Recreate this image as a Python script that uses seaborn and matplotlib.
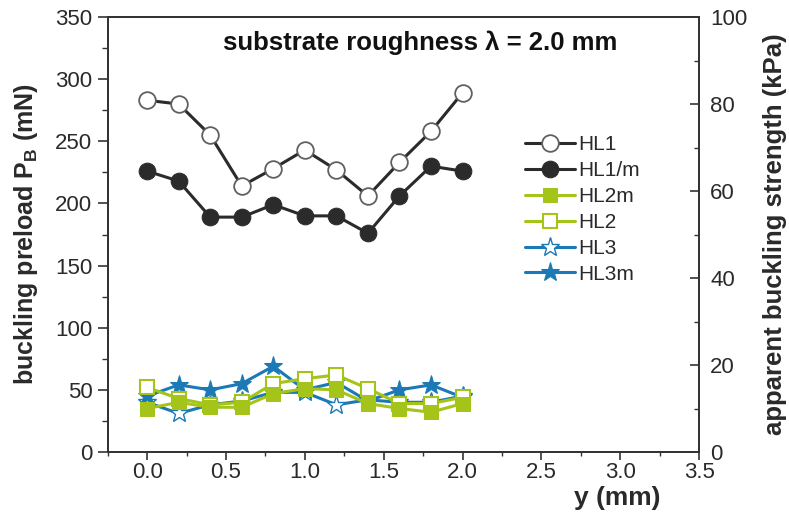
import matplotlib
matplotlib.use("Agg")
import matplotlib.pyplot as plt
import seaborn as sns
import pandas as pd
from matplotlib.ticker import MultipleLocator

# ---- data ----
y_mm = [0.0, 0.2, 0.4, 0.6, 0.8, 1.0, 1.2, 1.4, 1.6, 1.8, 2.0]
hl1 = [283, 280, 255, 214, 228, 243, 227, 206, 233, 258, 289]
hl1m = [226, 218, 189, 189, 199, 190, 190, 176, 206, 230, 226]
hl2m = [35, 40, 36, 36, 47, 51, 50, 39, 35, 32, 39]
hl2 = [52, 43, 38, 40, 55, 59, 62, 51, 39, 39, 44]
hl3 = [40, 31, 38, 41, 48, 48, 38, 42, 40, 40, 45]
hl3m = [45, 54, 50, 55, 69, 50, 56, 41, 50, 54, 44]
series_names = ["HL1", "HL1/m", "HL2m", "HL2", "HL3", "HL3m"]
x_ticks = [0.0, 0.5, 1.0, 1.5, 2.0, 2.5, 3.0, 3.5]
left_ticks = [0, 50, 100, 150, 200, 250, 300, 350]
right_ticks = [0, 20, 40, 60, 80, 100]

sns.set_theme(style="white")
plt.rcParams["font.family"] = ["Liberation Sans", "DejaVu Sans"]
plt.rcParams["mathtext.fontset"] = "custom"
plt.rcParams["mathtext.rm"] = "Liberation Sans"
plt.rcParams["mathtext.bf"] = "Liberation Sans:bold"

GREEN = "#a5c41a"
BLUE = "#1b7ab5"
DARK = "#2b2b2b"
TXT = "#2a2a2a"

fig = plt.figure(figsize=(7.89, 5.27), dpi=100)
ax = fig.add_axes([0.1365, 0.1423, 0.7495, 0.8254])

styles = {
    "HL1": dict(color=DARK, marker="o", markersize=12, markerfacecolor="white",
                markeredgecolor="#606060", markeredgewidth=1.3, zorder=3),
    "HL1/m": dict(color=DARK, marker="o", markersize=12, markerfacecolor=DARK,
                  markeredgecolor=DARK, zorder=3),
    "HL2m": dict(color=GREEN, marker="s", markersize=10.5, markerfacecolor=GREEN,
                 markeredgecolor=GREEN, zorder=5),
    "HL2": dict(color=GREEN, marker="s", markersize=10.5, markerfacecolor="white",
                markeredgecolor=GREEN, markeredgewidth=1.5, zorder=4),
    "HL3": dict(color=BLUE, marker="*", markersize=14, markerfacecolor="white",
                markeredgecolor=BLUE, markeredgewidth=1.0, zorder=2),
    "HL3m": dict(color=BLUE, marker="*", markersize=14, markerfacecolor=BLUE,
                 markeredgecolor=BLUE, zorder=2),
}
values = {"HL1": hl1, "HL1/m": hl1m, "HL2m": hl2m, "HL2": hl2, "HL3": hl3, "HL3m": hl3m}

for name in series_names:
    df = pd.DataFrame({"y": y_mm, "v": values[name]})
    sns.lineplot(data=df, x="y", y="v", ax=ax, label=name, linewidth=2.2, **styles[name])

ax.set_xlim(-0.25, 3.5)
ax.set_ylim(0, 350)
ax.set_xticks(x_ticks)
ax.set_xticklabels([f"{t:.1f}" for t in x_ticks])
ax.set_yticks(left_ticks)
ax.xaxis.set_minor_locator(MultipleLocator(0.25))
ax.yaxis.set_minor_locator(MultipleLocator(25))
ax.tick_params(axis="x", which="major", direction="out", length=5.5, width=1.2,
               labelsize=16, labelcolor=TXT, color="#333333", bottom=True, pad=1.5)
ax.tick_params(axis="x", which="minor", direction="out", length=3, width=1.0,
               color="#333333", bottom=True)
ax.tick_params(axis="y", which="major", direction="out", length=7, width=1.2,
               labelsize=16, labelcolor=TXT, color="#333333", left=True, pad=4)
ax.tick_params(axis="y", which="minor", direction="out", length=4, width=1.0,
               color="#333333", left=True)
for s in ax.spines.values():
    s.set_color("#333333")
    s.set_linewidth(1.3)
    s.set_visible(True)

ax.set_xlabel("y (mm)", fontsize=19, fontweight="bold", color=TXT)
ax.xaxis.set_label_coords(0.861, -0.078)
ax.set_ylabel(r"buckling preload P$_{\mathbf{B}}$ (mN)", fontsize=18, fontweight="bold",
              color=TXT)
ax.yaxis.set_label_coords(-0.115, 0.5)

ax2 = ax.twinx()
ax2.set_ylim(0, 100)
ax2.set_yticks(right_ticks)
ax2.yaxis.set_minor_locator(MultipleLocator(10))
ax2.tick_params(axis="y", which="major", direction="in", length=6.7, width=1.2,
                labelsize=16, labelcolor=TXT, color="#333333", right=True, pad=8)
ax2.tick_params(axis="y", which="minor", direction="in", length=3.8, width=1.0,
                color="#333333", right=True)
ax2.set_ylabel("apparent buckling strength (kPa)", fontsize=18.5, fontweight="bold",
               color=TXT)
ax2.yaxis.set_label_coords(1.108, 0.5)
for s in ax2.spines.values():
    s.set_color("#333333")
    s.set_linewidth(1.3)
ax2.grid(False)

ax.text(0.528, 0.940, "substrate roughness λ = 2.0 mm", transform=ax.transAxes,
        ha="center", va="center", fontsize=18.5, fontweight="bold", color="#111111")

leg = ax.legend(loc="upper left", bbox_to_anchor=(0.706, 0.728), frameon=False,
                fontsize=15, handlelength=2.4, labelspacing=0.33, handletextpad=0.15,
                borderaxespad=0, borderpad=0)
for t in leg.get_texts():
    t.set_color(TXT)

fig.savefig("out.png", dpi=100)
